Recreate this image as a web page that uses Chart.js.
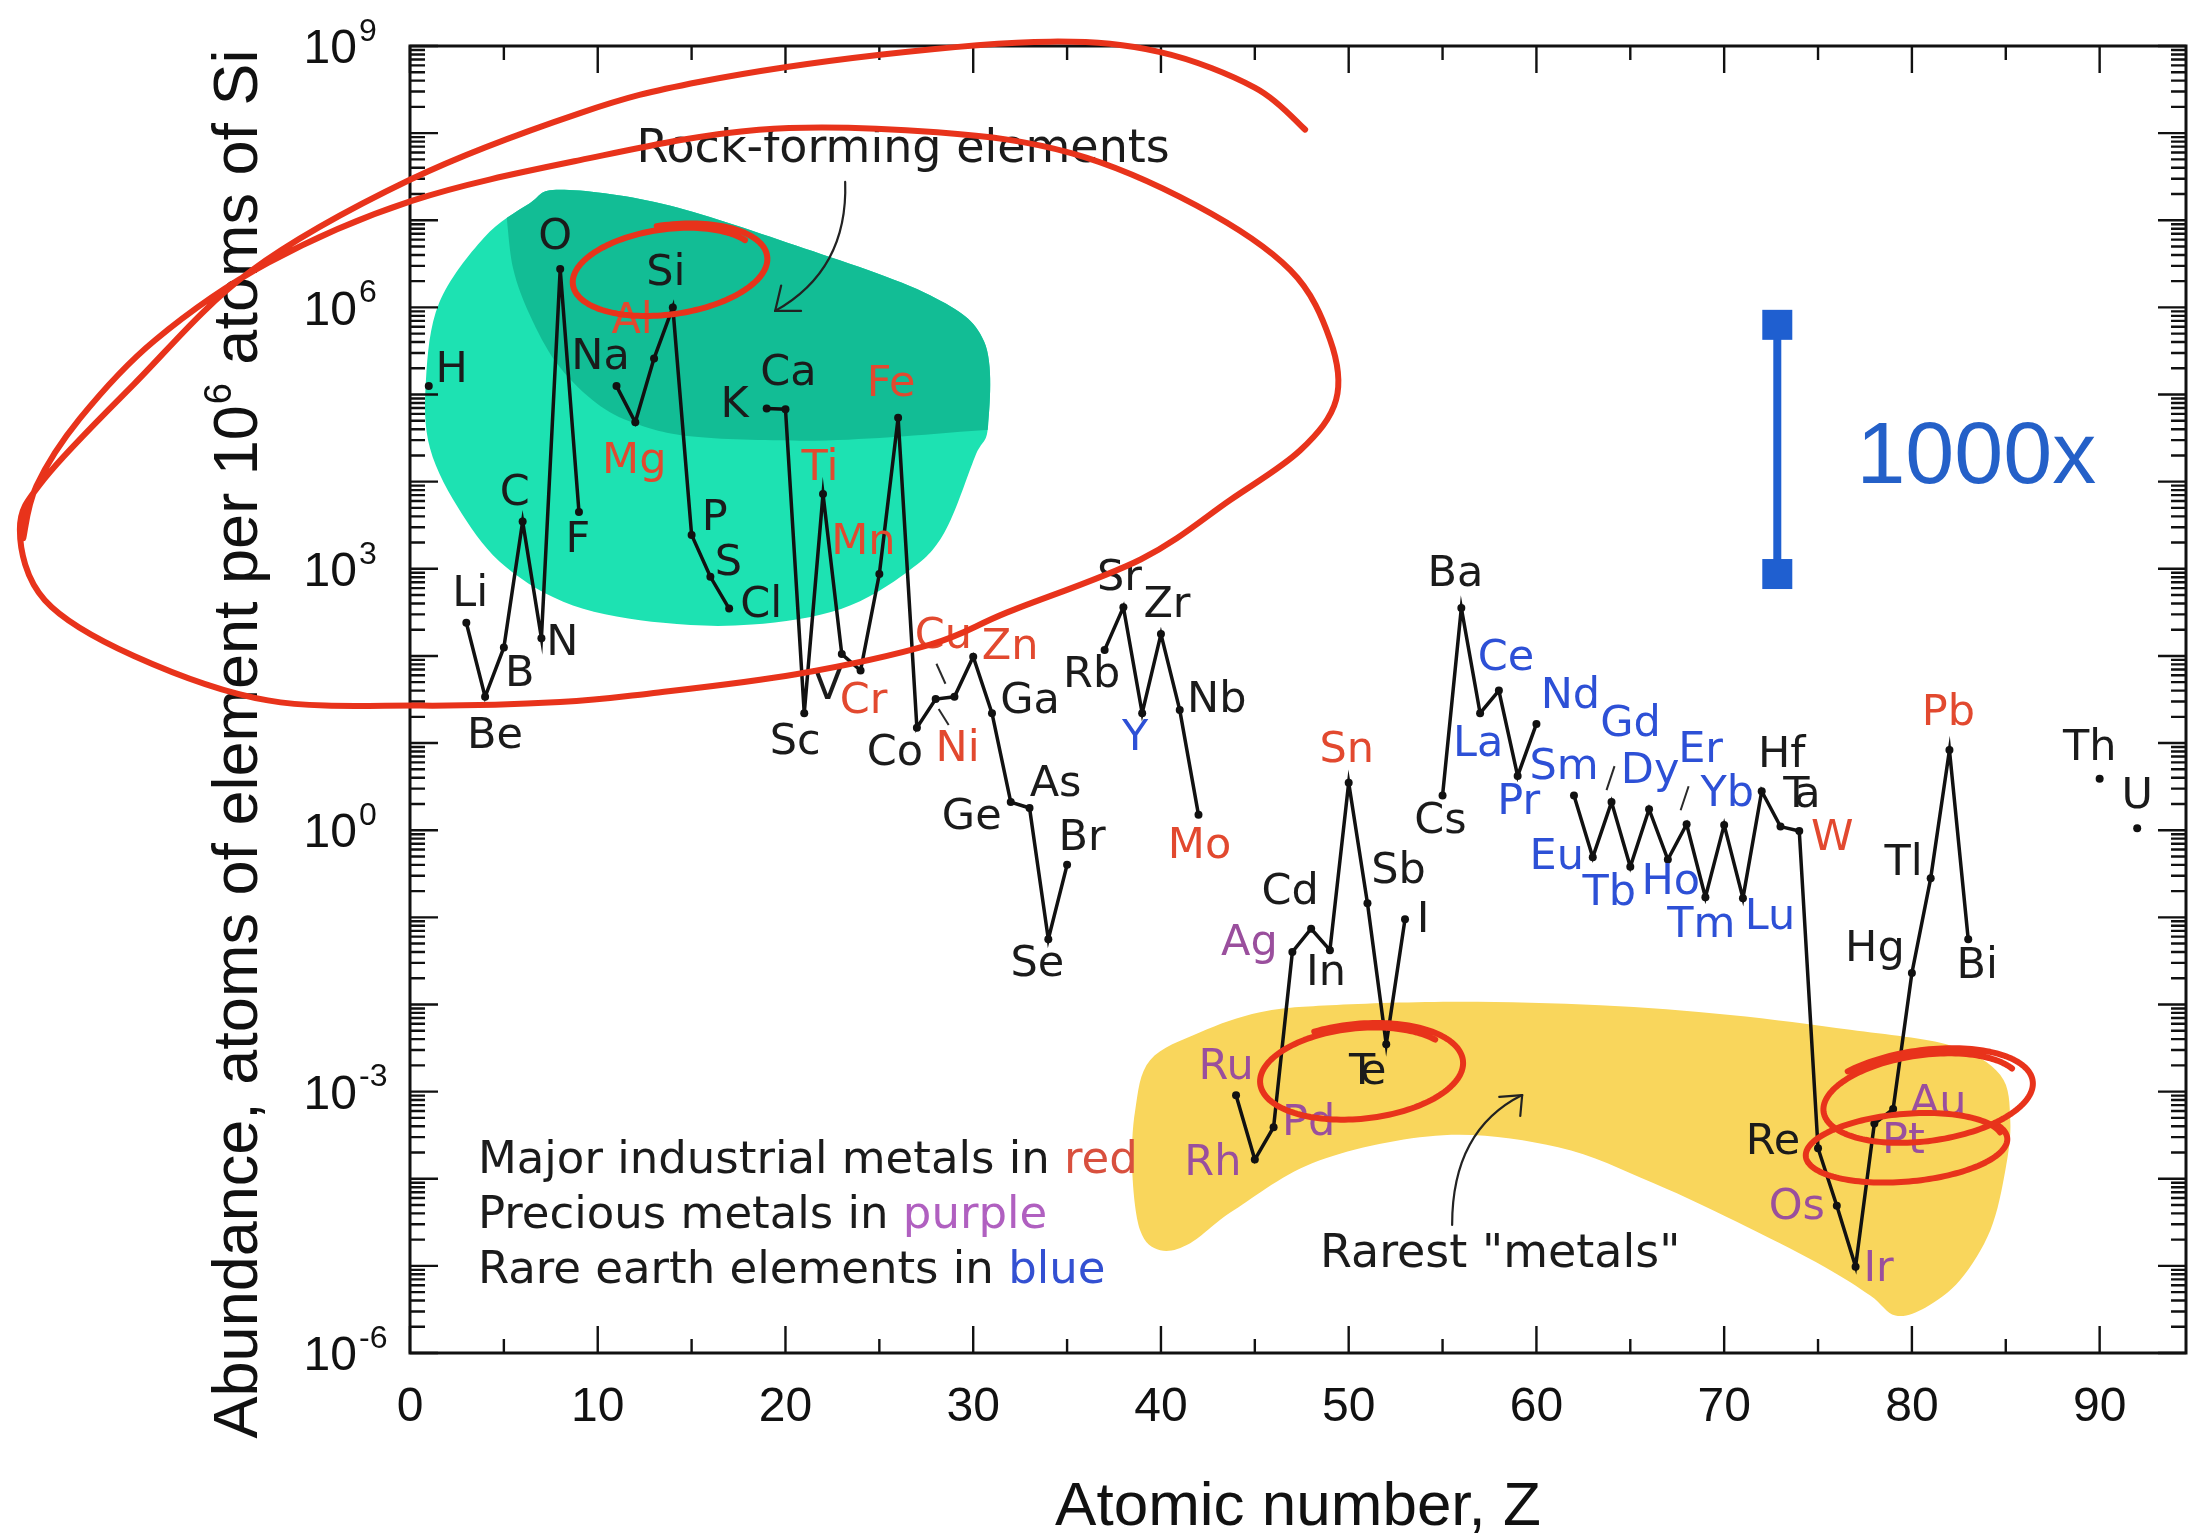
<!DOCTYPE html>
<html>
<head>
<meta charset="utf-8">
<title>Abundance of elements in Earth's upper crust</title>
<script src="https://cdn.jsdelivr.net/npm/chart.js@4.4.1/dist/chart.umd.min.js"></script>
<style>
html,body{margin:0;padding:0;background:#ffffff;}
#wrap{position:relative;width:2194px;height:1537px;}
canvas{display:block;}
</style>
</head>
<body>
<div id="wrap"><canvas id="chart" width="2194" height="1537"></canvas></div>
<script>
// ---------------- data ----------------
const symbols = ['H','He','Li','Be','B','C','N','O','F','Ne','Na','Mg','Al','Si','P','S','Cl','Ar','K','Ca','Sc','Ti','V','Cr','Mn','Fe','Co','Ni','Cu','Zn','Ga','Ge','As','Se','Br','Kr','Rb','Sr','Y','Zr','Nb','Mo','Tc','Ru','Rh','Pd','Ag','Cd','In','Sn','Sb','Te','I','Xe','Cs','Ba','La','Ce','Pr','Nd','Pm','Sm','Eu','Gd','Tb','Dy','Ho','Er','Tm','Yb','Lu','Hf','Ta','W','Re','Os','Ir','Pt','Au','Hg','Tl','Pb','Bi','Po','Th','Pa','U'];
const atomicNumbers = [1,2,3,4,5,6,7,8,9,10,11,12,13,14,15,16,17,18,19,20,21,22,23,24,25,26,27,28,29,30,31,32,33,34,35,36,37,38,39,40,41,42,43,44,45,46,47,48,49,50,51,52,53,54,55,56,57,58,59,60,61,62,63,64,65,66,67,68,69,70,71,72,73,74,75,76,77,78,79,80,81,82,83,84,90,91,92];
// atoms of element per 10^6 atoms of Si (null = not plotted)
const abundances = [1.25e5,null,240,34,125,3500,160,2.75e6,4500,null,1.25e5,4.8e4,2.6e5,1.0e6,2450,810,350,null,6.9e4,6.8e4,22,7200,105,68,870,5.4e4,15,32,34,98,22,2.1,1.8,0.056,0.40,null,117,363,22,178,24,1.5,null,9.1e-4,1.66e-4,3.9e-4,0.040,0.074,0.042,3.5,0.145,3.5e-3,0.095,null,2.5,355,22,40,4.2,16.6,null,2.5,0.49,2.1,0.38,1.74,0.46,1.17,0.17,1.15,0.166,2.8,1.1,0.98,2.24e-4,4.9e-5,9.8e-6,4.3e-4,6.3e-4,0.023,0.28,8.3,0.056,null,3.9,null,1.05];

const industrialMetals = ['Mg','Al','Ti','Cr','Mn','Fe','Ni','Cu','Zn','Mo','Sn','W','Pb'];
const preciousMetals = ['Ru','Rh','Pd','Ag','Os','Ir','Pt','Au'];
const rareEarths = ['Y','La','Ce','Pr','Nd','Sm','Eu','Gd','Tb','Dy','Ho','Er','Tm','Yb','Lu'];

const xTickValues = [0,10,20,30,40,50,60,70,80,90];
const yTickExponents = [9,6,3,0,-3,-6];
const xAxisTitle = 'Atomic number, Z';
const yAxisTitleParts = ['Abundance, atoms of element per 10','6',' atoms of Si'];
const legendLines = [['Major industrial metals in ','red'],['Precious metals in ','purple'],['Rare earth elements in ','blue']];
const annotationTexts = {rock:'Rock-forming elements', rarest:'Rarest "metals"', scale:'1000x'};

// ---------------- styles and annotation geometry ----------------
const COLORS = {
  ink:'#1b1b1b', red:'#e2492f', purple:'#9a4f9d', blue:'#2d50d6',
  legendRed:'#d8503e', legendPurple:'#b060c0', legendBlue:'#3350d2',
  tealLight:'#1de2b2', tealDark:'#12bd95', yellow:'#f9d65c', pen:'#e8331b', bar:'#1f5fd0', scaleText:'#2460c8'
};
const SANS = '"Liberation Sans", Arial, sans-serif';
const DEJAVU = '"DejaVu Sans", sans-serif';

// label offsets in pixels from each point
const labelOffsets = {H:[23,-15],Li:[4,-28],Be:[10,40],B:[16,27],C:[-8,-28],N:[21,6],O:[-5,-31],F:[-1,29],Na:[-16,-28],Mg:[-1,40],Al:[-22,-37],Si:[-7,-34],P:[23,-16],S:[18,-13],Cl:[32,-3],K:[-32,-3],Ca:[3,-35],Sc:[-9,30],Ti:[-3,-25],V:[-14,34],Cr:[3,31],Mn:[-16,-31],Fe:[-7,-33],Co:[-22,26],Ni:[22,51],Cu:[-11,-60],Zn:[37,-9],Ga:[38,-11],Ge:[-39,16],As:[26,-23],Se:[-11,26],Br:[15,-26],Rb:[-13,26],Sr:[-4,-28],Y:[-7,26],Zr:[6,-28],Nb:[37,-9],Mo:[1,32],Ru:[-10,-27],Rh:[-42,4],Pd:[35,-3],Ag:[-43,-8],Cd:[-21,-36],In:[-4,24],Sn:[-2,-32],Sb:[31,-31],Te:[-18,29],I:[18,2],Cs:[-2,26],Ba:[-6,-33],La:[-2,32],Ce:[7,-32],Pr:[1,27],Nd:[34,-27],Sm:[-10,-28],Eu:[-36,1],Gd:[19,-77],Tb:[-21,27],Dy:[1,-37],Ho:[3,23],Er:[14,-73],Tm:[-4,29],Yb:[3,-30],Lu:[27,20],Hf:[20,-35],Ta:[22,-31],W:[33,8],Re:[-45,-5],Os:[-40,2],Ir:[23,3],Pt:[29,18],Au:[45,-5],Hg:[-37,-23],Tl:[-27,-15],Pb:[-1,-36],Bi:[9,28],Th:[-10,-30],U:[0,-32]};
const overlappedLabels = ['Te','Ta'];
const leaderLines = {Cu:[[-18,-33],[-9,-13]], Ni:[[3,10],[13,26]], Gd:[[-5,-12],[3,-36]], Er:[[-6,-14],[2,-38]]};

// shapes in data space: [Z, log10(abundance)]
const shapes = {
  tealOuter:[[7.99,7.35],[13.43,7.19],[20.56,6.71],[27.70,6.14],[30.58,5.61],[30.79,4.64],[30.10,4.29],[28.45,3.41],[26.53,2.97],[22.96,2.54],[18.22,2.36],[13.48,2.38],[8.68,2.58],[5.11,3.02],[2.77,3.63],[1.07,4.38],[0.85,5.17],[1.55,6.05],[3.94,6.80],[6.34,7.19]],
  tealDarkEdge:[[4.9,7.25],[5.11,7.10],[5.49,6.45],[6.39,5.91],[7.78,5.37],[9.70,4.94],[11.72,4.69],[14.92,4.52],[20.78,4.47],[25.57,4.51],[30.47,4.59],[34.5,4.62]],
  tealDarkCap:[[34.5,8.3],[3.0,8.3]],
  yellow:[[38.63,-3.21],[39.42,-2.64],[42.09,-2.32],[45.28,-2.09],[49.01,-2.01],[55.94,-1.97],[63.40,-2.01],[70.32,-2.12],[76.72,-2.29],[82.05,-2.47],[84.71,-2.81],[85.24,-3.33],[84.98,-3.90],[84.18,-4.59],[82.58,-5.16],[80.71,-5.48],[79.12,-5.57],[77.78,-5.34],[75.33,-5.01],[71.28,-4.56],[66.22,-4.05],[61.16,-3.64],[55.03,-3.50],[48.43,-3.79],[43.90,-4.36],[41.56,-4.74],[39.96,-4.82],[38.89,-4.59],[38.47,-3.90]],
  bigLoop:[[47.68,8.04],[45.02,8.52],[39.96,8.93],[34.10,9.05],[25.04,8.90],[15.45,8.59],[9.06,8.23],[0.05,7.47],[-8.52,6.41],[-14.70,5.12],[-19.45,4.04],[-20.78,3.45],[-19.45,2.64],[-14.70,2.00],[-7.57,1.49],[0.53,1.43],[7.99,1.47],[12.79,1.57],[20.56,1.79],[27.70,2.13],[31.81,2.50],[38.94,3.11],[43.69,3.79],[47.42,4.36],[49.33,4.94],[49.01,5.63],[46.88,6.43],[41.88,7.17],[35.22,7.77],[28.08,8.01],[18.59,8.04],[9.06,7.69],[0.05,7.22],[-7.57,6.51],[-13.6,5.62],[-17.6,4.72],[-19.9,3.95],[-20.6,3.35]],
  rings:[
    {c:[13.73,6.42], r:[4.9,0.47], rot:-8, t0:-0.5, turns:1.18, grow:0.10},
    {c:[50.56,-2.78], r:[5.1,0.50], rot:-6, t0:-0.6, turns:1.22, grow:0.10},
    {c:[79.65,-3.64], r:[5.2,0.38], rot:-5, t0:-0.2, turns:1.05, grow:0.05},
    {c:[80.71,-3.06], r:[5.2,0.47], rot:-8, t0:-0.4, turns:1.30, grow:0.12}
  ],
  rockArrow:{from:[23.18,7.44], ctrl:[23.34,6.43], tip:[19.45,5.96], barbs:[[19.77,6.25],[20.83,5.96]]},
  rarestArrow:{from:[55.51,-4.53], ctrl:[55.51,-3.44], tip:[59.24,-3.04], barbs:[[58.02,-3.06],[59.14,-3.28]]},
  rockText:[26.27,7.81], rarestText:[58.07,-4.88], scaleText:[83.43,4.26],
  scaleBar:{z:72.83, top:5.80, bottom:2.94},
  legendAt:[3.62,-3.80], legendStep:0.632
};

// ---------------- helpers ----------------
function toPx(chart, z, L){
  return [chart.scales.x.getPixelForValue(z), chart.scales.y.getPixelForValue(Math.pow(10, L))];
}
function smooth(ctx, pts, closed){
  const n = pts.length;
  ctx.moveTo(pts[0][0], pts[0][1]);
  const segs = closed ? n : n - 1;
  for (let i = 0; i < segs; i++) {
    const p0 = closed ? pts[(i - 1 + n) % n] : pts[Math.max(i - 1, 0)];
    const p1 = pts[i];
    const p2 = pts[(i + 1) % n];
    const p3 = closed ? pts[(i + 2) % n] : pts[Math.min(i + 2, n - 1)];
    ctx.bezierCurveTo(p1[0] + (p2[0] - p0[0]) / 6, p1[1] + (p2[1] - p0[1]) / 6,
                      p2[0] - (p3[0] - p1[0]) / 6, p2[1] - (p3[1] - p1[1]) / 6, p2[0], p2[1]);
  }
  if (closed) ctx.closePath();
}
function labelColor(sym){
  if (industrialMetals.includes(sym)) return COLORS.red;
  if (preciousMetals.includes(sym)) return COLORS.purple;
  if (rareEarths.includes(sym)) return COLORS.blue;
  return COLORS.ink;
}
function drawArrow(ctx, chart, a){
  const f = toPx(chart, a.from[0], a.from[1]);
  const c = toPx(chart, a.ctrl[0], a.ctrl[1]);
  const t = toPx(chart, a.tip[0], a.tip[1]);
  ctx.save();
  ctx.strokeStyle = '#222'; ctx.lineWidth = 2.2; ctx.lineCap = 'round';
  ctx.beginPath(); ctx.moveTo(f[0], f[1]); ctx.quadraticCurveTo(c[0], c[1], t[0], t[1]); ctx.stroke();
  a.barbs.forEach(b => { const p = toPx(chart, b[0], b[1]); ctx.beginPath(); ctx.moveTo(t[0], t[1]); ctx.lineTo(p[0], p[1]); ctx.stroke(); });
  ctx.restore();
}

const decorPlugin = {
  id: 'decor',
  beforeDraw(chart){
    const ctx = chart.ctx;
    ctx.save(); ctx.fillStyle = '#ffffff'; ctx.fillRect(0, 0, chart.width, chart.height); ctx.restore();
  },
  beforeDatasetsDraw(chart){
    const ctx = chart.ctx;
    const map = arr => arr.map(p => toPx(chart, p[0], p[1]));
    // yellow region
    ctx.save();
    ctx.fillStyle = COLORS.yellow;
    ctx.beginPath(); smooth(ctx, map(shapes.yellow), true); ctx.fill();
    // teal region
    const outer = map(shapes.tealOuter);
    ctx.fillStyle = COLORS.tealLight;
    ctx.beginPath(); smooth(ctx, outer, true); ctx.fill();
    ctx.beginPath(); smooth(ctx, outer, true); ctx.clip();
    ctx.fillStyle = COLORS.tealDark;
    ctx.beginPath(); smooth(ctx, map(shapes.tealDarkEdge), false);
    map(shapes.tealDarkCap).forEach(p => ctx.lineTo(p[0], p[1]));
    ctx.closePath(); ctx.fill();
    ctx.restore();

    // arrows and annotation text
    drawArrow(ctx, chart, shapes.rockArrow);
    drawArrow(ctx, chart, shapes.rarestArrow);
    ctx.save();
    ctx.fillStyle = COLORS.ink; ctx.font = '46px ' + DEJAVU; ctx.textAlign = 'center'; ctx.textBaseline = 'middle';
    let p = toPx(chart, shapes.rockText[0], shapes.rockText[1]);
    ctx.fillText(annotationTexts.rock, p[0], p[1]);
    p = toPx(chart, shapes.rarestText[0], shapes.rarestText[1]);
    ctx.fillText(annotationTexts.rarest, p[0], p[1]);
    // colour legend
    ctx.font = '45px ' + DEJAVU; ctx.textAlign = 'left';
    const lc = [COLORS.legendRed, COLORS.legendPurple, COLORS.legendBlue];
    legendLines.forEach((ln, i) => {
      const q = toPx(chart, shapes.legendAt[0], shapes.legendAt[1] - i * shapes.legendStep);
      ctx.fillStyle = COLORS.ink; ctx.fillText(ln[0], q[0], q[1]);
      const w = ctx.measureText(ln[0]).width;
      ctx.fillStyle = lc[i]; ctx.fillText(ln[1], q[0] + w, q[1]);
    });
    ctx.restore();
  },
  afterDatasetsDraw(chart){
    const ctx = chart.ctx;
    const xs = chart.scales.x, ys = chart.scales.y, area = chart.chartArea;
    // element labels
    ctx.save();
    ctx.font = '43px ' + DEJAVU; ctx.textAlign = 'center'; ctx.textBaseline = 'middle';
    symbols.forEach((s, i) => {
      const v = abundances[i];
      if (v === null || !labelOffsets[s]) return;
      const px = xs.getPixelForValue(atomicNumbers[i]);
      const py = ys.getPixelForValue(v);
      const o = labelOffsets[s];
      ctx.fillStyle = labelColor(s);
      if (overlappedLabels.includes(s)) {
        ctx.fillText(s[0], px + o[0] - 6, py + o[1]);
        ctx.fillText(s.slice(1), px + o[0] + 5, py + o[1]);
      } else {
        ctx.fillText(s, px + o[0], py + o[1]);
      }
      if (leaderLines[s]) {
        const L = leaderLines[s];
        ctx.strokeStyle = '#2a2a2a'; ctx.lineWidth = 2;
        ctx.beginPath(); ctx.moveTo(px + L[0][0], py + L[0][1]); ctx.lineTo(px + L[1][0], py + L[1][1]); ctx.stroke();
      }
    });
    ctx.restore();

    // axes frame and ticks
    ctx.save();
    ctx.strokeStyle = '#111'; ctx.lineWidth = 3; ctx.lineCap = 'butt';
    ctx.strokeRect(area.left, area.top, area.right - area.left, area.bottom - area.top);
    ctx.lineWidth = 2.4;
    ctx.beginPath();
    for (let e = -6; e <= 9; e++) {
      const y = ys.getPixelForValue(Math.pow(10, e));
      ctx.moveTo(area.left, y); ctx.lineTo(area.left + 28, y);
      ctx.moveTo(area.right, y); ctx.lineTo(area.right - 28, y);
      if (e < 9) for (let m = 2; m <= 9; m++) {
        const ym = ys.getPixelForValue(m * Math.pow(10, e));
        ctx.moveTo(area.left, ym); ctx.lineTo(area.left + 15, ym);
        ctx.moveTo(area.right, ym); ctx.lineTo(area.right - 15, ym);
      }
    }
    for (let z = 0; z <= xs.max; z += 5) {
      const x = xs.getPixelForValue(z);
      const len = (z % 10 === 0) ? 27 : 14;
      ctx.moveTo(x, area.top); ctx.lineTo(x, area.top + len);
      ctx.moveTo(x, area.bottom); ctx.lineTo(x, area.bottom - len);
    }
    ctx.stroke();

    // tick labels
    ctx.fillStyle = '#111';
    ctx.font = '48px ' + SANS; ctx.textAlign = 'center'; ctx.textBaseline = 'middle';
    xTickValues.forEach(v => ctx.fillText(String(v), xs.getPixelForValue(v), area.bottom + 55));
    yTickExponents.forEach(e => {
      const y = ys.getPixelForValue(Math.pow(10, e));
      ctx.font = '48px ' + SANS; ctx.textAlign = 'right';
      ctx.fillText('10', area.left - 53, y + 4);
      ctx.font = '32px ' + SANS; ctx.textAlign = 'left';
      ctx.fillText(String(e), area.left - 51, y - 14);
    });

    // axis titles
    ctx.font = '62px ' + SANS; ctx.textAlign = 'center'; ctx.textBaseline = 'alphabetic';
    ctx.fillText(xAxisTitle, (area.left + area.right) / 2, 1525);
    ctx.save();
    ctx.translate(257, 745); ctx.rotate(-Math.PI / 2);
    ctx.font = '63px ' + SANS;
    const w0 = ctx.measureText(yAxisTitleParts[0]).width;
    const w2 = ctx.measureText(yAxisTitleParts[2]).width;
    ctx.font = '38px ' + SANS;
    const w1 = ctx.measureText(yAxisTitleParts[1]).width;
    const x0 = -(w0 + w1 + w2) / 2;
    ctx.textAlign = 'left';
    ctx.font = '63px ' + SANS; ctx.fillText(yAxisTitleParts[0], x0, 0);
    ctx.font = '38px ' + SANS; ctx.fillText(yAxisTitleParts[1], x0 + w0 + 1, -26);
    ctx.font = '63px ' + SANS; ctx.fillText(yAxisTitleParts[2], x0 + w0 + w1 + 2, 0);
    ctx.restore();
    ctx.restore();

    // 1000x scale bar
    ctx.save();
    const sb = shapes.scaleBar;
    const top = toPx(chart, sb.z, sb.top), bot = toPx(chart, sb.z, sb.bottom);
    ctx.strokeStyle = COLORS.bar; ctx.fillStyle = COLORS.bar; ctx.lineWidth = 8;
    ctx.beginPath(); ctx.moveTo(top[0], top[1]); ctx.lineTo(bot[0], bot[1]); ctx.stroke();
    ctx.fillRect(top[0] - 15, top[1] - 15, 30, 30);
    ctx.fillRect(bot[0] - 15, bot[1] - 15, 30, 30);
    const st = toPx(chart, shapes.scaleText[0], shapes.scaleText[1]);
    ctx.fillStyle = COLORS.scaleText; ctx.font = '88px ' + SANS; ctx.textAlign = 'center'; ctx.textBaseline = 'middle';
    ctx.fillText(annotationTexts.scale, st[0], st[1]);
    ctx.restore();

    // red hand-drawn marks
    ctx.save();
    ctx.strokeStyle = COLORS.pen; ctx.lineWidth = 6; ctx.lineCap = 'round'; ctx.lineJoin = 'round';
    ctx.beginPath(); smooth(ctx, shapes.bigLoop.map(p => toPx(chart, p[0], p[1])), false); ctx.stroke();
    shapes.rings.forEach(r => {
      const c = toPx(chart, r.c[0], r.c[1]);
      const rx = Math.abs(xs.getPixelForValue(r.c[0] + r.r[0]) - c[0]);
      const ry = Math.abs(ys.getPixelForValue(Math.pow(10, r.c[1] + r.r[1])) - c[1]);
      const rot = r.rot * Math.PI / 180, cr = Math.cos(rot), sr = Math.sin(rot);
      ctx.beginPath();
      const T = r.turns * 2 * Math.PI;
      for (let t = 0; t <= T; t += 0.04) {
        const s = 1 + r.grow * t / (2 * Math.PI);
        const a = r.t0 - t;
        const ex = s * rx * Math.cos(a), ey = s * ry * Math.sin(a);
        const X = c[0] + ex * cr - ey * sr, Y = c[1] + ex * sr + ey * cr;
        if (t === 0) ctx.moveTo(X, Y); else ctx.lineTo(X, Y);
      }
      ctx.stroke();
    });
    ctx.restore();
  }
};

const points = atomicNumbers.map((z, i) => ({x: z, y: abundances[i]}));

new Chart(document.getElementById('chart'), {
  type: 'scatter',
  data: { datasets: [{
    label: 'Abundance',
    data: points,
    showLine: true,
    spanGaps: false,
    borderColor: '#111111',
    borderWidth: 3.5,
    pointRadius: 4,
    pointHoverRadius: 4,
    pointBackgroundColor: '#111111',
    pointBorderWidth: 0,
    tension: 0
  }]},
  options: {
    responsive: false,
    animation: false,
    devicePixelRatio: 1,
    events: [],
    layout: { padding: { left: 410, top: 46, right: 8, bottom: 184 } },
    plugins: { legend: { display: false }, tooltip: { enabled: false }, title: { display: false } },
    scales: {
      x: { type: 'linear', min: 0, max: 94.6, display: false },
      y: { type: 'logarithmic', min: 1e-6, max: 1e9, display: false }
    }
  },
  plugins: [decorPlugin]
});
</script>
</body>
</html>
